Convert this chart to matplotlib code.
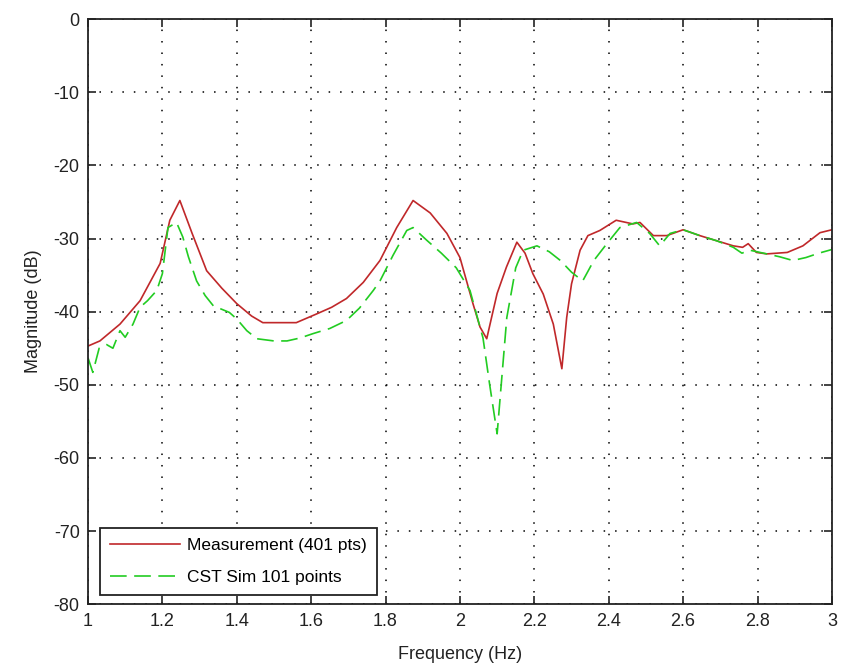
import numpy as np
import matplotlib.pyplot as plt

plt.rcParams['font.family'] = ['Liberation Sans', 'DejaVu Sans']
plt.rcParams['axes.unicode_minus'] = False

meas_f = [1.0, 1.032, 1.086, 1.14, 1.194, 1.22, 1.247, 1.28, 1.319, 1.36, 1.40, 1.44, 1.47,
          1.52, 1.56, 1.615, 1.655, 1.695, 1.74, 1.785, 1.83, 1.874, 1.92, 1.965, 2.0, 2.035,
          2.054, 2.072, 2.085, 2.10, 2.125, 2.153, 2.175, 2.196, 2.224, 2.251, 2.274, 2.287,
          2.30, 2.323, 2.344, 2.376, 2.42, 2.465, 2.484, 2.52, 2.556, 2.60, 2.645, 2.69,
          2.735, 2.76, 2.775, 2.797, 2.825, 2.88, 2.922, 2.968, 3.0]
meas_db = [-44.7, -44.0, -41.7, -38.5, -33.4, -27.5, -24.8, -29.3, -34.4, -36.8, -38.9, -40.6, -41.5,
           -41.5, -41.5, -40.3, -39.4, -38.2, -36.0, -33.0, -28.5, -24.8, -26.5, -29.3, -32.6, -38.9,
           -42.1, -43.7, -40.8, -37.5, -33.9, -30.5, -32.0, -34.8, -37.6, -41.7, -47.8, -40.8,
           -36.2, -31.6, -29.6, -28.9, -27.5, -28.0, -27.8, -29.6, -29.6, -28.8, -29.6, -30.3,
           -31.0, -31.2, -30.7, -31.9, -32.1, -31.9, -31.0, -29.2, -28.8]

# CST simulation (101 points)
sim_f = [1.0, 1.013, 1.03, 1.05, 1.067, 1.086, 1.10, 1.121, 1.14, 1.16, 1.185, 1.20, 1.215,
         1.238, 1.255, 1.27, 1.292, 1.315, 1.337, 1.38, 1.40, 1.427, 1.454, 1.50, 1.535, 1.57,
         1.605, 1.65, 1.695, 1.73, 1.767, 1.785, 1.82, 1.857, 1.874, 1.91, 1.95, 1.99, 2.027,
         2.062, 2.08, 2.10, 2.126, 2.15, 2.17, 2.207, 2.24, 2.27, 2.30, 2.33, 2.36, 2.395,
         2.43, 2.475, 2.51, 2.537, 2.565, 2.60, 2.645, 2.69, 2.735, 2.758, 2.78, 2.825, 2.86,
         2.895, 2.93, 2.965, 3.0]
sim_db = [-46.3, -48.3, -45.0, -44.5, -45.0, -42.6, -43.5, -41.7, -39.4, -38.5, -37.1, -34.8, -28.5,
          -27.8, -29.8, -32.5, -35.8, -37.8, -39.2, -40.1, -41.0, -42.6, -43.7, -44.0, -44.0, -43.6,
          -43.0, -42.3, -41.2, -39.5, -37.1, -35.8, -32.3, -28.9, -28.5, -30.2, -32.0, -34.0, -37.1,
          -43.6, -50.0, -56.7, -40.8, -34.0, -31.6, -31.0, -31.8, -33.0, -34.6, -35.8, -33.0, -30.7,
          -28.5, -27.8, -29.3, -31.0, -29.3, -28.8, -29.6, -30.3, -31.2, -32.0, -31.6, -32.1, -32.5,
          -33.0, -32.6, -32.0, -31.5]

xticks = [1, 1.2, 1.4, 1.6, 1.8, 2, 2.2, 2.4, 2.6, 2.8, 3]
xticklabels = ['1', '1.2', '1.4', '1.6', '1.8', '2', '2.2', '2.4', '2.6', '2.8', '3']
yticks = list(range(-80, 1, 10))

fig = plt.figure(figsize=(8.42, 6.71), dpi=100)
ax = fig.add_axes([0.1045, 0.0995, 0.8835, 0.872])

ax.plot(meas_f, meas_db, color='#c0282a', lw=1.2, label='Measurement (401 pts)')
ax.plot(sim_f, sim_db, color='#22cc22', lw=1.2, ls=(0, (10, 4.5)), label='CST Sim 101 points')

ax.set_xlim(1, 3)
ax.set_ylim(-80, 0)
ax.set_xticks(xticks)
ax.set_xticklabels(xticklabels)
ax.set_yticks(yticks)
ax.grid(True, color='black', ls=(0, (1, 6.5)), lw=1.1)
ax.tick_params(direction='in', top=True, right=True, length=6, width=1.2,
               labelsize=13, colors='#222222', pad=6)
for s in ax.spines.values():
    s.set_linewidth(1.3)
    s.set_color('#222222')

ax.set_xlabel('Frequency (Hz)', fontsize=13, color='#222222', labelpad=12)
ax.set_ylabel('Magnitude (dB)', fontsize=13, color='#222222', labelpad=8)

leg = ax.legend(loc='lower left', bbox_to_anchor=(0.016, 0.015), borderaxespad=0,
                fontsize=12.5, fancybox=False, framealpha=1, edgecolor='#222222',
                handlelength=4.0, handletextpad=0.4, borderpad=0.6, labelspacing=0.95)
leg.get_frame().set_linewidth(1.3)

fig.savefig('out.png', dpi=100)
